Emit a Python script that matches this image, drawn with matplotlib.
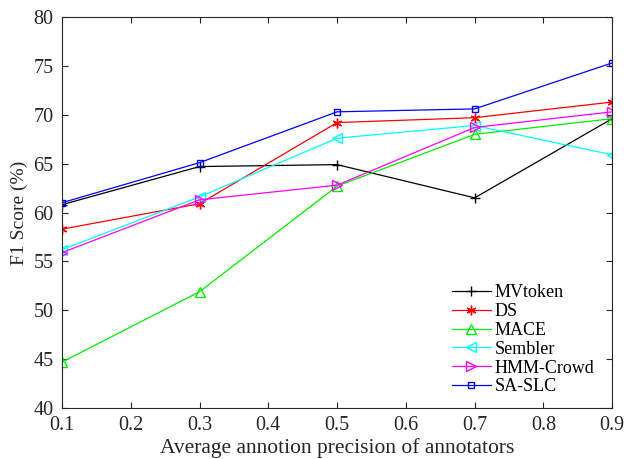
import matplotlib
matplotlib.use("Agg")
import matplotlib.pyplot as plt

plt.rcParams['font.family'] = ['Liberation Serif', 'DejaVu Serif']

# x values: average annotation precision
precision = [0.1, 0.3, 0.5, 0.7, 0.9]

# F1 scores
mvtoken = [60.8, 64.7, 64.9, 61.5, 69.6]
ds      = [58.3, 60.9, 69.2, 69.7, 71.3]
mace    = [44.7, 51.9, 62.7, 68.0, 69.6]
sembler = [56.2, 61.6, 67.6, 68.9, 65.9]
hmm     = [55.9, 61.3, 62.8, 68.7, 70.3]
saslc   = [61.0, 65.1, 70.3, 70.6, 75.3]

fig = plt.figure(figsize=(6.26, 4.59), dpi=100)
ax = fig.add_axes([0.099, 0.111, 0.879, 0.852])

ax.plot(precision, mvtoken, color='black', marker='+', ms=7, lw=0.9, label='MVtoken')
ax.plot(precision, ds,      color='red',   marker=(6, 2, 0), ms=7, lw=0.9, label='DS')
ax.plot(precision, mace,    color='#00ee00', marker='^', ms=7, mfc='none', lw=0.9, label='MACE')
ax.plot(precision, sembler, color='cyan',  marker='<', ms=7, mfc='none', lw=0.9, label='Sembler')
ax.plot(precision, hmm,     color='magenta', marker='>', ms=7, mfc='none', lw=0.9, label='HMM-Crowd')
ax.plot(precision, saslc,   color='blue',  marker='s', ms=5, mfc='none', lw=0.9, label='SA-SLC')

ax.set_xlim(0.1, 0.9)
ax.set_ylim(40, 80)
ax.set_xticks([0.1, 0.2, 0.3, 0.4, 0.5, 0.6, 0.7, 0.8, 0.9])
ax.set_yticks(range(40, 81, 5))
ax.tick_params("both", direction='in', length=4, top=True, right=True,
               labelsize=14.5, colors='#262626')
ax.tick_params("x", pad=6)
ax.tick_params("y", pad=6)
for s in ax.spines.values():
    s.set_color('#262626')
    s.set_linewidth(0.8)

ax.set_xlabel('Average annotion precision of annotators', fontsize=15.5, color='#262626', labelpad=2)
ax.set_ylabel('F1 Score (%)', fontsize=14, color='#262626', labelpad=4)

ax.legend(loc='lower right', bbox_to_anchor=(0.99, 0.0), frameon=False,
          fontsize=13, handlelength=2.15, labelspacing=0.1, handletextpad=0.2,
          borderpad=0.2)

fig.savefig('out.png', dpi=100)
